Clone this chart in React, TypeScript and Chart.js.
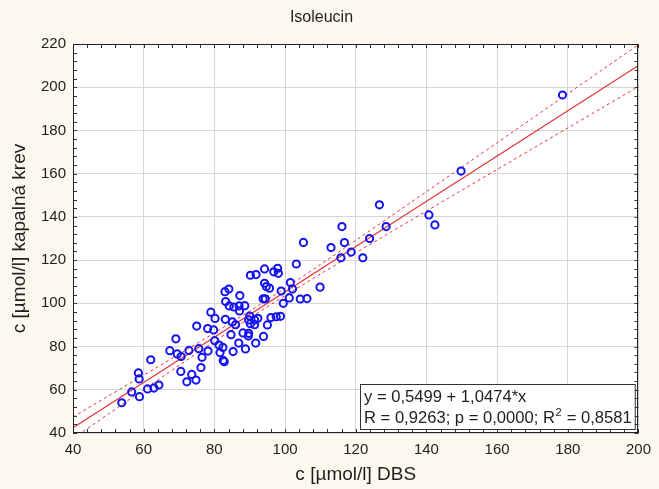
import React, { useEffect, useRef } from 'react';
import { Chart, registerables } from 'chart.js';

Chart.register(...registerables);

const FONT = "'Liberation Sans', Arial, sans-serif";
const BG = '#fcf8ee';
const TEXT = '#1e1e1e';
const BLUE = '#1414f0';
const RED = '#e3343a';

const TITLE = 'Isoleucin';
const X_TITLE = 'c [µmol/l] DBS';
const Y_TITLE = 'c [µmol/l] kapalná krev';

const X_MIN = 40;
const X_MAX = 200;
const Y_MIN = 40;
const Y_MAX = 220;
const TICK_STEP = 20;
const MINOR_STEP = 4;

// measured points: DBS (x) vs capillary blood (y)
const dbs = [
  53.8, 56.6, 58.8, 61.1, 62.9, 64.3, 58.5, 58.7, 62.0, 67.4,
  69.1, 69.5, 70.6, 70.5, 72.8, 75.6, 76.5, 76.2, 73.6, 72.2,
  74.8, 75.0, 78.2, 78.1, 79.8, 79.0, 80.2, 80.1, 81.3, 82.4,
  81.6, 82.5, 82.8, 85.3, 84.7, 83.1, 85.1, 86.0, 83.0, 84.1,
  83.2, 84.2, 85.5, 87.2, 87.0, 87.1, 88.6, 88.1, 86.9, 88.8,
  90.2, 91.8, 94.2, 96.8, 97.9, 98.1, 103.2, 94.2, 94.7, 95.6,
  93.8, 94.4, 98.9, 101.5, 102.1, 99.5, 101.2, 104.3, 106.2, 109.9,
  90.0, 89.7, 91.4, 92.3, 96.0, 97.5, 98.7, 90.2, 91.4, 95.0,
  89.7, 89.6, 93.9, 91.7, 105.2, 113.0, 116.8, 115.8, 118.7, 122.0,
  123.9, 116.1, 128.6, 126.7, 140.7, 142.4, 149.8, 178.5,
];
const capillary = [
  54.0, 59.0, 56.8, 60.4, 60.8, 62.2, 67.8, 65.0, 73.9, 78.1,
  83.6, 76.6, 75.4, 68.5, 78.2, 79.0, 75.0, 70.3, 67.1, 63.7,
  64.5, 89.5, 77.9, 88.3, 87.7, 95.9, 93.0, 82.7, 80.7, 79.6,
  77.2, 73.6, 73.0, 77.7, 85.5, 92.6, 91.4, 90.1, 105.4, 106.6,
  100.8, 98.8, 98.3, 103.6, 98.8, 96.5, 98.9, 86.3, 81.6, 78.9,
  113.0, 113.3, 115.9, 114.6, 116.2, 113.9, 118.2, 109.3, 107.8, 107.0,
  102.1, 102.1, 105.7, 109.6, 106.6, 100.0, 102.5, 102.0, 102.2, 107.5,
  94.1, 92.3, 92.3, 93.1, 93.4, 93.8, 94.0, 90.6, 90.1, 90.0,
  86.1, 84.9, 84.7, 81.6, 128.2, 125.8, 128.1, 121.1, 123.7, 121.1,
  130.0, 135.5, 135.5, 145.6, 140.9, 136.3, 161.2, 196.4,
];

// regression (as printed on the chart)
const INTERCEPT = 0.5499;
const SLOPE = 1.0474;
const lineX = [40, 200];

// 95% confidence band: x positions and half-widths
const bandX = [40, 50, 60, 70, 80, 90, 100, 110, 120, 130, 140, 150, 160, 170, 180, 190, 200];
const bandHalf = [5.0, 4.16, 3.35, 2.6, 1.98, 1.62, 1.72, 2.2, 2.89, 3.67, 4.49, 5.34, 6.2, 7.06, 7.93, 8.81, 9.69];

const STAT_LINE_1 = 'y = 0,5499 + 1,0474*x';
const STAT_LINE_2A = 'R = 0,9263; p = 0,0000; R';
const STAT_LINE_2SUP = '2';
const STAT_LINE_2B = ' = 0,8581';

const fit = (x: number) => INTERCEPT + SLOPE * x;

const framePlugin = {
  id: 'frameAndStats',
  beforeDraw(chart: any) {
    const { ctx, chartArea: a, width, height } = chart;
    ctx.save();
    ctx.fillStyle = BG;
    ctx.fillRect(0, 0, width, height);
    ctx.fillStyle = '#ffffff';
    ctx.fillRect(a.left, a.top, a.right - a.left, a.bottom - a.top);
    ctx.restore();
  },
  afterDraw(chart: any) {
    const { ctx, chartArea: a } = chart;
    const xs = chart.scales.x;
    const ys = chart.scales.y;
    ctx.save();
    // minor ticks (inside, all four sides)
    ctx.strokeStyle = '#333';
    ctx.lineWidth = 1;
    ctx.beginPath();
    for (let v = X_MIN; v <= X_MAX; v += MINOR_STEP) {
      const px = Math.round(xs.getPixelForValue(v)) + 0.5;
      ctx.moveTo(px, a.bottom);
      ctx.lineTo(px, a.bottom - 4);
      ctx.moveTo(px, a.top);
      ctx.lineTo(px, a.top + 4);
    }
    for (let v = Y_MIN; v <= Y_MAX; v += MINOR_STEP) {
      const py = Math.round(ys.getPixelForValue(v)) + 0.5;
      ctx.moveTo(a.left, py);
      ctx.lineTo(a.left + 4, py);
      ctx.moveTo(a.right, py);
      ctx.lineTo(a.right - 4, py);
    }
    ctx.stroke();
    // frame
    ctx.strokeStyle = '#222';
    ctx.strokeRect(Math.round(a.left) + 0.5, Math.round(a.top) + 0.5, Math.round(a.right - a.left) - 1, Math.round(a.bottom - a.top) - 1);

    // statistics box
    const big = `16.6px ${FONT}`;
    const small = `11px ${FONT}`;
    ctx.font = big;
    const w1 = ctx.measureText(STAT_LINE_1).width;
    const wA = ctx.measureText(STAT_LINE_2A).width;
    const wB = ctx.measureText(STAT_LINE_2B).width;
    ctx.font = small;
    const wS = ctx.measureText(STAT_LINE_2SUP).width;
    const boxW = Math.max(w1, wA + wS + wB) + 8;
    const boxH = 45;
    const bx = Math.round(a.right - 4 - boxW);
    const by = Math.round(a.bottom - 4 - boxH);
    ctx.fillStyle = '#ffffff';
    ctx.fillRect(bx, by, boxW, boxH);
    ctx.strokeStyle = '#333';
    ctx.strokeRect(bx + 0.5, by + 0.5, boxW, boxH);
    ctx.fillStyle = TEXT;
    ctx.textBaseline = 'middle';
    ctx.textAlign = 'left';
    ctx.font = big;
    const tx = bx + 4;
    ctx.fillText(STAT_LINE_1, tx, by + 13);
    ctx.fillText(STAT_LINE_2A, tx, by + 34.5);
    ctx.font = small;
    ctx.fillText(STAT_LINE_2SUP, tx + wA + 0.5, by + 29);
    ctx.font = big;
    ctx.fillText(STAT_LINE_2B, tx + wA + wS + 1, by + 34.5);
    ctx.restore();
  },
};

export default function App() {
  const ref = useRef<HTMLCanvasElement>(null);
  useEffect(() => {
    document.documentElement.style.overflow = 'hidden';
    document.body.style.margin = '0';
    document.body.style.overflow = 'hidden';
    document.body.style.background = BG;
    const canvas = ref.current;
    if (!canvas) return;

    const points = dbs.map((x, i) => ({ x, y: capillary[i] }));
    const line = lineX.map((x) => ({ x, y: fit(x) }));
    const upper = bandX.map((x, i) => ({ x, y: fit(x) + bandHalf[i] }));
    const lower = bandX.map((x, i) => ({ x, y: fit(x) - bandHalf[i] }));

    const chart = new Chart(canvas, {
      type: 'scatter',
      data: {
        datasets: [
          {
            data: points,
            showLine: false,
            pointStyle: 'circle',
            pointRadius: 3.6,
            pointBorderWidth: 2,
            pointBackgroundColor: 'rgba(0,0,0,0)',
            pointBorderColor: BLUE,
          },
          {
            data: line,
            showLine: true,
            borderColor: RED,
            borderWidth: 1.2,
            pointRadius: 0,
          },
          {
            data: upper,
            showLine: true,
            borderColor: RED,
            borderWidth: 1,
            borderDash: [3, 3],
            pointRadius: 0,
            tension: 0.3,
          },
          {
            data: lower,
            showLine: true,
            borderColor: RED,
            borderWidth: 1,
            borderDash: [3, 3],
            pointRadius: 0,
            tension: 0.3,
          },
        ],
      },
      options: {
        animation: false,
        responsive: true,
        maintainAspectRatio: false,
        layout: { padding: { left: 0, right: 16, top: 0, bottom: 0 } },
        plugins: {
          legend: { display: false },
          tooltip: { enabled: false },
          title: {
            display: true,
            text: TITLE,
            color: TEXT,
            font: { family: FONT, size: 16, weight: 'normal' },
            padding: { top: 8, bottom: 16.8 },
          },
        },
        scales: {
          x: {
            type: 'linear',
            min: X_MIN,
            max: X_MAX,
            afterFit: (s: any) => { s.height = 56; },
            border: { display: false },
            grid: { color: '#d6d6d6', drawTicks: false },
            ticks: {
              stepSize: TICK_STEP,
              padding: 8,
              color: TEXT,
              font: { family: FONT, size: 15 },
            },
            title: {
              display: true,
              text: X_TITLE,
              color: TEXT,
              font: { family: FONT, size: 19 },
              padding: { top: 0, bottom: 2.6 },
            },
          },
          y: {
            type: 'linear',
            min: Y_MIN,
            max: Y_MAX,
            afterFit: (s: any) => { s.width = 73; },
            border: { display: false },
            grid: { color: '#d6d6d6', drawTicks: false },
            ticks: {
              stepSize: TICK_STEP,
              padding: 7,
              color: TEXT,
              font: { family: FONT, size: 15 },
            },
            title: {
              display: true,
              text: Y_TITLE,
              color: TEXT,
              font: { family: FONT, size: 19 },
              padding: { top: 8.6, bottom: 0 },
            },
          },
        },
      },
      plugins: [framePlugin],
    } as any);
    return () => chart.destroy();
  }, []);

  return (
    <div style={{ position: 'relative', width: 659, height: 489, overflow: 'hidden' }}>
      <canvas ref={ref} style={{ display: 'block' }} />
    </div>
  );
}
